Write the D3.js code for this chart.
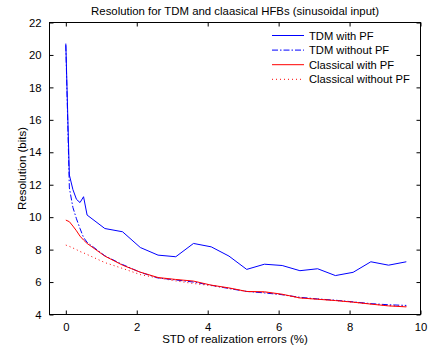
<!DOCTYPE html>
<html>
<head>
<meta charset="utf-8">
<script src="https://cdn.jsdelivr.net/npm/d3@7"></script>
<style>
  body { margin: 0; background: #fff; }
  svg text { font-family: "Liberation Sans", Arial, sans-serif; fill: #000; }
</style>
</head>
<body>
<div id="chart"></div>
<script>
// STD of realization errors (%)
const stdErr = [0, 0.1, 0.2, 0.3, 0.4, 0.5, 0.6, 1.1, 1.6, 2.1, 2.6, 3.1, 3.6, 4.1, 4.6, 5.1, 5.6, 6.1, 6.6, 7.1, 7.6, 8.1, 8.6, 9.1, 9.6];

const tdmWithPF = [20.7, 12.6, 11.7, 11.1, 10.9, 11.26, 10.13, 9.3, 9.1, 8.13, 7.66, 7.56, 8.38, 8.17, 7.6, 6.78, 7.1, 7.02, 6.7, 6.82, 6.4, 6.6, 7.25, 7.04, 7.25];
const tdmWithoutPF = [20.6, 11.8, 10.6, 9.9, 9.3, 8.75, 8.45, 7.62, 7.08, 6.6, 6.25, 6.13, 6.0, 5.8, 5.6, 5.42, 5.33, 5.22, 5.06, 4.96, 4.88, 4.78, 4.67, 4.6, 4.56];
const classicalWithPF = [9.82, 9.72, 9.45, 9.16, 8.83, 8.59, 8.38, 7.6, 7.04, 6.61, 6.28, 6.16, 6.06, 5.81, 5.64, 5.42, 5.4, 5.25, 5.02, 4.94, 4.86, 4.76, 4.64, 4.53, 4.47];
const classicalWithoutPF = [8.28, 8.2, 8.1, 8.0, 7.88, 7.8, 7.7, 7.2, 6.84, 6.46, 6.25, 6.07, 5.91, 5.78, 5.62, 5.42, 5.36, 5.22, 5.02, 4.95, 4.86, 4.76, 4.65, 4.55, 4.5];

const xTicks = [0, 2, 4, 6, 8, 10];
const yTicks = [4, 6, 8, 10, 12, 14, 16, 18, 20, 22];

const seriesNames = ["TDM with PF", "TDM without PF", "Classical with PF", "Classical without PF"];
const seriesValues = [tdmWithPF, tdmWithoutPF, classicalWithPF, classicalWithoutPF];
const seriesColors = ["#0000ff", "#0000ff", "#ff0000", "#ff0000"];
const seriesDash = [null, "6,2,1.5,2", null, "1,3"];

const width = 433, height = 351;
const margin = { top: 22.5, right: 12.5, bottom: 36.5, left: 49.5 };

const svg = d3.select("#chart").append("svg")
    .attr("width", width)
    .attr("height", height);

const x = d3.scaleLinear().domain([-0.46, 10]).range([margin.left, width - margin.right]);
const y = d3.scaleLinear().domain([4, 22]).range([height - margin.bottom, margin.top]);

const x0 = margin.left, x1 = width - margin.right;
const y0 = height - margin.bottom, y1 = margin.top;
const tickLen = 4;

// axes (matlab style: ticks inward, box all round)
svg.append("g")
    .attr("transform", `translate(0,${y0})`)
    .call(d3.axisBottom(x).tickValues(xTicks).tickSizeInner(-tickLen).tickSizeOuter(0).tickPadding(8))
    .call(g => g.select(".domain").remove())
    .call(g => g.selectAll("text").attr("font-size", 11.3));

svg.append("g")
    .attr("transform", `translate(0,${y1})`)
    .call(d3.axisTop(x).tickValues(xTicks).tickSizeInner(-tickLen).tickSizeOuter(0).tickFormat(""))
    .call(g => g.select(".domain").remove());

svg.append("g")
    .attr("transform", `translate(${x0},0)`)
    .call(d3.axisLeft(y).tickValues(yTicks).tickSizeInner(-tickLen).tickSizeOuter(0).tickPadding(8))
    .call(g => g.select(".domain").remove())
    .call(g => g.selectAll("text").attr("font-size", 11.3));

svg.append("g")
    .attr("transform", `translate(${x1},0)`)
    .call(d3.axisRight(y).tickValues(yTicks).tickSizeInner(-tickLen).tickSizeOuter(0).tickFormat(""))
    .call(g => g.select(".domain").remove());

svg.selectAll(".tick line").attr("stroke", "#000");

svg.append("rect")
    .attr("x", x0).attr("y", y1)
    .attr("width", x1 - x0).attr("height", y0 - y1)
    .attr("fill", "none")
    .attr("stroke", "#000")
    .attr("stroke-width", 1);

// series
const line = d3.line().x((d, i) => x(stdErr[i])).y(d => y(d));

seriesValues.forEach((vals, k) => {
    svg.append("path")
        .datum(vals)
        .attr("d", line)
        .attr("fill", "none")
        .attr("stroke", seriesColors[k])
        .attr("stroke-width", 1)
        .attr("stroke-dasharray", seriesDash[k]);
});

// legend
const lg = svg.append("g");
seriesNames.forEach((name, k) => {
    const ly = 35.5 + k * 14.6;
    lg.append("line")
        .attr("x1", 272).attr("x2", 304)
        .attr("y1", ly).attr("y2", ly)
        .attr("stroke", seriesColors[k])
        .attr("stroke-width", 1)
        .attr("stroke-dasharray", seriesDash[k]);
    lg.append("text")
        .attr("x", 309).attr("y", ly + 4)
        .attr("font-size", 11.2)
        .text(name);
});

// titles
svg.append("text")
    .attr("x", (x0 + x1) / 2).attr("y", 15)
    .attr("text-anchor", "middle")
    .attr("font-size", 11.4)
    .text("Resolution for TDM and claasical HFBs (sinusoidal input)");

svg.append("text")
    .attr("x", (x0 + x1) / 2).attr("y", 343)
    .attr("text-anchor", "middle")
    .attr("font-size", 11.5)
    .text("STD of realization errors (%)");

svg.append("text")
    .attr("transform", `translate(26,${(y0 + y1) / 2}) rotate(-90)`)
    .attr("text-anchor", "middle")
    .attr("font-size", 11.5)
    .text("Resolution (bits)");
</script>
</body>
</html>
